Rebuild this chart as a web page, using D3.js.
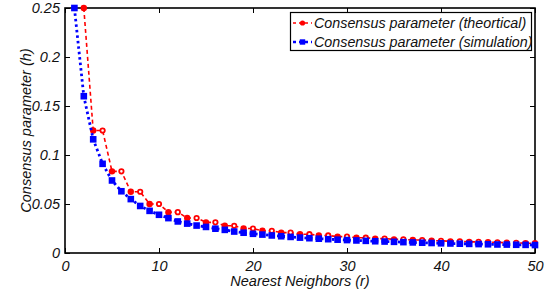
<!DOCTYPE html>
<html>
<head>
<meta charset="utf-8">
<script src="https://cdn.jsdelivr.net/npm/d3@7"></script>
<style>
  body { margin: 0; background: white; }
  text { font-family: "Liberation Sans", Arial, sans-serif; font-style: italic; }
</style>
</head>
<body>
<div id="chart"></div>
<script>
// neighbours r for each series
var theoryR = d3.range(2, 51);
var simR = d3.range(1, 51);

// consensus parameter
var theoryH = [0.25, 0.125, 0.125, 0.0833, 0.0833, 0.0625, 0.0625, 0.05, 0.05,
  0.0417, 0.0417, 0.0357, 0.0357, 0.0313, 0.0313, 0.0278, 0.0278, 0.025, 0.025,
  0.0227, 0.0227, 0.0208, 0.0208, 0.0192, 0.0192, 0.0179, 0.0179, 0.0167, 0.0167,
  0.0156, 0.0156, 0.0147, 0.0147, 0.0139, 0.0139, 0.0132, 0.0132, 0.0125, 0.0125,
  0.0119, 0.0119, 0.0114, 0.0114, 0.0109, 0.0109, 0.0104, 0.0104, 0.01, 0.01];
var simH = [0.25, 0.16, 0.116, 0.091, 0.074, 0.063, 0.055, 0.048, 0.043, 0.039,
  0.0356, 0.0322, 0.030, 0.028, 0.0266, 0.0248, 0.0236, 0.0219, 0.0207, 0.0196,
  0.0188, 0.0179, 0.0171, 0.0164, 0.0157, 0.0151, 0.0146, 0.0141, 0.0136, 0.0132,
  0.0128, 0.0124, 0.0120, 0.0117, 0.0114, 0.0111, 0.0108, 0.0105, 0.0102, 0.0099,
  0.0097, 0.0095, 0.0093, 0.0091, 0.0089, 0.0087, 0.0086, 0.0084, 0.0083, 0.0081];

var xTicks = [0, 10, 20, 30, 40, 50];
var yTicks = [0, 0.05, 0.1, 0.15, 0.2, 0.25];
var yTickLabels = ["0", "0.05", "0.1", "0.15", "0.2", "0.25"];
var legendLabels = ["Consensus parameter (theortical)", "Consensus parameter (simulation)"];

var W = 552, H = 294;
var margin = {left: 65, right: 17, top: 8, bottom: 41};

var svg = d3.select("#chart").append("svg")
  .attr("width", W).attr("height", H);

var x = d3.scaleLinear().domain([0, 50]).range([margin.left, W - margin.right]);
var y = d3.scaleLinear().domain([0, 0.25]).range([H - margin.bottom, margin.top]);

// axes, ticks pointing inward
var xAxis = d3.axisBottom(x).tickValues(xTicks).tickSizeInner(-5).tickSizeOuter(0).tickPadding(8);
var yAxis = d3.axisLeft(y).tickValues(yTicks).tickSizeInner(-5).tickSizeOuter(0).tickPadding(5)
  .tickFormat(function(d, i) { return yTickLabels[i]; });
var xTop = d3.axisTop(x).tickValues(xTicks).tickSizeInner(-5).tickSizeOuter(0).tickFormat("");
var yRight = d3.axisRight(y).tickValues(yTicks).tickSizeInner(-5).tickSizeOuter(0).tickFormat("");

function styleAxis(g) {
  g.select(".domain").remove();
  g.selectAll("line").attr("stroke", "black");
  g.selectAll("text").attr("font-size", 14.5).attr("fill", "#111");
}

svg.append("g").attr("transform", "translate(0," + y(0) + ")").call(xAxis).call(styleAxis);
svg.append("g").attr("transform", "translate(" + x(0) + ",0)").call(yAxis).call(styleAxis);
svg.append("g").attr("transform", "translate(0," + y(0.25) + ")").call(xTop).call(styleAxis);
svg.append("g").attr("transform", "translate(" + x(50) + ",0)").call(yRight).call(styleAxis);

// frame
svg.append("rect")
  .attr("x", x(0)).attr("y", y(0.25))
  .attr("width", x(50) - x(0)).attr("height", y(0) - y(0.25))
  .attr("fill", "none").attr("stroke", "black").attr("stroke-width", 1.6);

var line = d3.line().x(function(d) { return x(d[0]); }).y(function(d) { return y(d[1]); });

var theory = theoryR.map(function(r, i) { return [r, theoryH[i]]; });
var sim = simR.map(function(r, i) { return [r, simH[i]]; });

// theoretical series
svg.append("path").datum(theory).attr("d", line)
  .attr("fill", "none").attr("stroke", "#ff0000").attr("stroke-width", 1.6)
  .attr("stroke-dasharray", "4,3");
svg.selectAll(".tpt").data(theory).enter().append("circle")
  .attr("class", "tpt")
  .attr("cx", function(d) { return x(d[0]); })
  .attr("cy", function(d) { return y(d[1]); })
  .attr("r", function(d) { return (d[0] % 2 === 0 && d[0] > 2) ? 2.2 : 3.2; })
  .attr("fill", function(d) { return (d[0] % 2 === 0 && d[0] > 2) ? "white" : "#ff0000"; })
  .attr("stroke", "#ff0000")
  .attr("stroke-width", function(d) { return (d[0] % 2 === 0 && d[0] > 2) ? 1.8 : 0; });

// simulation series
svg.append("path").datum(sim).attr("d", line)
  .attr("fill", "none").attr("stroke", "#0000ff").attr("stroke-width", 2.8)
  .attr("stroke-dasharray", "2.5,3");
svg.selectAll(".spt").data(sim).enter().append("rect")
  .attr("class", "spt")
  .attr("x", function(d) { return x(d[0]) - 3.3; })
  .attr("y", function(d) { return y(d[1]) - 3.3; })
  .attr("width", 6.6).attr("height", 6.6)
  .attr("fill", "#0000ff");

// axis titles
svg.append("text")
  .attr("x", (x(0) + x(50)) / 2).attr("y", 286)
  .attr("text-anchor", "middle").attr("font-size", 14.5).attr("fill", "#111")
  .text("Nearest Neighbors (r)");
svg.append("text")
  .attr("transform", "translate(31," + ((y(0) + y(0.25)) / 2) + ") rotate(-90)")
  .attr("text-anchor", "middle").attr("font-size", 14.5).attr("fill", "#111")
  .text("Consensus parameter (h)");

// legend
var legend = svg.append("g");
legend.append("rect")
  .attr("x", 290.5).attr("y", 12.5).attr("width", 241).attr("height", 38)
  .attr("fill", "white").attr("stroke", "black").attr("stroke-width", 1.2);

var legendColors = ["#ff0000", "#0000ff"];
legendLabels.forEach(function(lab, i) {
  var ly = 23 + i * 19;
  legend.append("line")
    .attr("x1", 293).attr("x2", 312).attr("y1", ly).attr("y2", ly)
    .attr("stroke", legendColors[i]).attr("stroke-width", i ? 2.4 : 1.6)
    .attr("stroke-dasharray", "3,3");
  if (i === 0) {
    legend.append("circle").attr("cx", 302.5).attr("cy", ly).attr("r", 2.6).attr("fill", legendColors[i]);
  } else {
    legend.append("rect").attr("x", 299.8).attr("y", ly - 2.7).attr("width", 5.4).attr("height", 5.4)
      .attr("fill", legendColors[i]);
  }
  legend.append("text")
    .attr("x", 314).attr("y", ly + 5)
    .attr("font-size", 14.3).attr("fill", "#111")
    .text(lab);
});
</script>
</body>
</html>
